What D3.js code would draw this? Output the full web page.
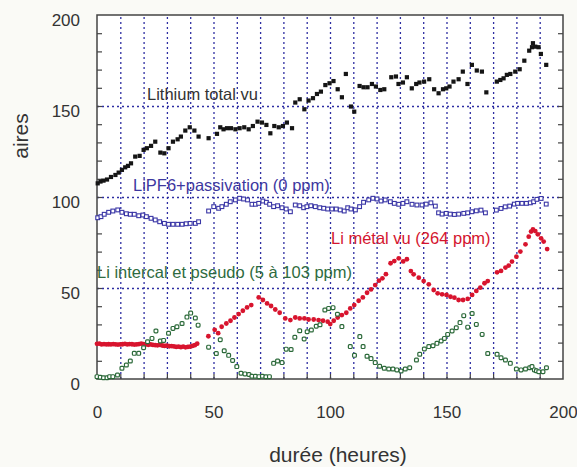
<!DOCTYPE html>
<head>
<meta charset="utf-8">
<title>aires vs durée</title>
<style>
html, body { margin: 0; padding: 0; background: #fafaf6; }
body { font-family: 'Liberation Sans', Arial, sans-serif; }
.grid line { stroke: #2e2ea2; stroke-width: 1.3; stroke-dasharray: 2,3; }
.grid path { display: none; }
.frame { fill: none; stroke: #444; stroke-width: 1.5; }
.ticks path { display: none; }
.ticks line { stroke: #444; stroke-width: 1.2; }
.labels path, .labels line { display: none; }
.labels text { font-size: 17px; fill: #333; font-family: 'Liberation Sans', Arial, sans-serif; }
</style>
</head>
<body>
<svg width="577" height="467"></svg>
<script src="https://d3js.org/d3.v7.min.js"></script>
<script>
// [durée (h), aire]
var lithiumTotal = [[0.3,107.5],[1.5,108.5],[2.8,109],[4.3,109.6],[6,111],[7.9,112.1],[9.3,113.4],[10.7,114.9],[12.1,116.3],[13.3,117.1],[14.6,118.5],[16.4,122.2],[18.3,122.6],[20,125.9],[21.4,126.8],[23.2,128.1],[25,130.4],[27.2,124.4],[28.9,124],[30.7,126.8],[32.6,130.4],[34.6,131.7],[36,133.2],[37.9,136.5],[39.8,138.3],[41.8,136.5],[43.6,133.2],[47.9,132.3],[51.5,134.7],[52.9,138.3],[54.3,137.2],[55.8,137.8],[57.5,137.8],[59.4,137.2],[61.2,137.8],[63.2,138.3],[65.1,137.2],[66.9,139],[68.9,141.4],[70.8,140.9],[72.7,139.6],[74.4,135],[76.1,139],[78,138.3],[79.8,139],[81.5,140.9],[83.7,137.8],[85.1,151.9],[87,153.7],[89,148.2],[90.8,153],[92.7,154.3],[94.4,156.6],[96.1,157.9],[98,161.5],[99.8,162.5],[101.5,163.7],[103.3,159.2],[105.1,154.8],[106.8,167.6],[109,149.7],[110.4,146.9],[112.7,161],[114.4,160.3],[116.1,160.3],[118,162.1],[119.7,160.7],[121.6,158.8],[123.3,159.2],[126.3,165.8],[128.3,166.2],[129.4,162.1],[131.3,162.9],[133,165.8],[135.1,159.7],[137,162.1],[138.4,162.9],[140.4,163.4],[142.6,164.7],[144.7,159.2],[146.6,157],[148.5,159.2],[149.9,159.7],[151.3,160.7],[153,163.4],[155.2,164.7],[157,168.9],[159,162.1],[160.9,172.6],[163,169.5],[165.2,168.9],[167.1,157.5],[171.6,163.4],[173.1,164.3],[174.5,165.2],[175.9,167.1],[177.4,167.6],[179.5,168.9],[181.4,170.2],[183.4,174.9],[185.5,180.4],[186.7,182.3],[187.1,184.5],[188.1,182.6],[189.5,182.3],[190.5,178.6],[192.8,172.6]];

var lipf6 = [[0.3,88.6],[1.7,89.2],[3.1,90.5],[5,91.6],[6.8,92.3],[8.9,92.9],[10.7,91.6],[12.6,90.8],[14.3,90.5],[16,90.5],[17.9,89.7],[19.7,90.1],[21.2,89.2],[23.2,88.3],[25,87.4],[26.9,86.4],[28.9,85.5],[30.7,85],[32.6,85],[34.6,85],[36.5,85],[38.3,85.3],[40,85.5],[42.2,85.5],[43.6,86.4],[47.9,92.3],[50.1,94.7],[52.2,93.8],[53.6,94.7],[55.5,96],[57.2,97.4],[59.4,98.4],[61.2,99.3],[62.9,98.9],[64.6,98.4],[66.5,96],[68,96],[69.4,96.5],[71.2,97.8],[72.7,97.1],[74.1,96],[75.8,94.7],[77.5,95.2],[79.4,94.1],[81.2,93.4],[83,91.9],[85.1,95.6],[87,95.2],[88.7,94.1],[90.1,94.7],[91.8,95.2],[93.7,94.7],[95.6,94.1],[97.3,93.8],[99,93.4],[100.8,93.4],[102.7,93.4],[104.4,92.9],[106.1,92.3],[107.6,94.1],[109,93.4],[110.9,92.9],[112.7,94.7],[114.4,97.1],[116.6,98.4],[118.4,99.3],[120.2,98.9],[121.9,97.8],[123.7,98.4],[125.9,97.4],[127.6,96.5],[129.5,96],[131.3,96.5],[133,97.4],[135.2,96],[137.3,95.6],[139.5,95.6],[141.3,96.1],[143.3,96.8],[145.2,95],[146.6,91.3],[148.1,90.6],[149.9,91],[151.6,90.6],[153.4,90.4],[155.2,90.6],[157.4,91],[159.1,91.3],[160.9,91.9],[162.8,92.4],[164.8,92.8],[166.7,91.3],[171.4,92.8],[173.4,93.7],[175.2,94.6],[177.1,95],[179.1,96.1],[180.5,96.5],[182.4,96.5],[184.3,96.5],[186,96.8],[187.4,97.4],[188.8,98.7],[190.6,99.2],[192.8,96.1]];

var liMetal = [[0,19.3],[1,19.4],[2,19],[3,19.2],[4,19],[5,19.1],[6,19],[7,19.2],[8,19],[9,18.9],[10,19],[11,19.1],[12,19.3],[13,19],[14,19.2],[15,19.1],[16,18.9],[17,19],[18,19.2],[19,19.4],[20,19.2],[21,19],[22,18.8],[23,19],[24,18.7],[25,18.6],[26,18.5],[27,18.7],[28,18.4],[29,18.2],[30,18.3],[31,18],[32,18.1],[33,17.9],[34,17.6],[35,17.8],[36,17.5],[37,17.8],[38,17.4],[39,17.6],[40,17.8],[41,18.2],[42,18.6],[43,19.4],[47.8,23.5],[50.5,27],[52,25.2],[53.5,28.7],[55.5,30.5],[57.3,32],[59,33.8],[60.8,35.7],[62.6,37.5],[64.4,39.3],[66.2,40.6],[69.4,44.8],[71.2,43.4],[73,41.5],[74.7,40.1],[76.5,38.2],[78.4,36.4],[80.8,33.3],[83,32.4],[85.1,33.8],[87,33.3],[89,33.3],[90.8,32.7],[93,32.7],[95.1,32.4],[97,32],[99,31.5],[100.1,30.2],[101.6,32],[103.3,33.8],[105.1,35.1],[107,36.4],[108.7,38.8],[110.4,40.6],[112.3,43],[114.1,44.8],[115.9,47.4],[117.6,49.2],[119.4,51.6],[121,54],[122.5,55.3],[124,57.6],[126,63.6],[127.6,64.8],[129.5,66.3],[131.4,64.6],[133,65.8],[134.7,59.3],[135.9,57.5],[138.1,55.7],[140.2,53.8],[142.4,52],[144.5,48.9],[146.2,47.1],[148.1,46.5],[150,46.2],[151.7,45.2],[153.4,44.7],[155.2,43.4],[157.1,43.4],[159.1,44],[161,46.2],[162.8,48.4],[164.5,50.2],[166.3,52.6],[167.7,53.8],[171.7,58.6],[173.4,59.4],[175.3,61.2],[176.7,62.3],[178.1,64.5],[180,67.2],[181.7,70],[183.9,74],[185.3,78.2],[186.3,81],[187.1,82.2],[188.1,81.3],[189.2,79.5],[190.6,77.3],[191.7,75.5],[193.2,71.4]];

var liIntercal = [[0,1.3],[1.4,1],[2.8,0.7],[4.3,0.7],[5.4,1.3],[6.8,1.3],[8.8,2.2],[10.7,5.9],[12.6,7.7],[14.3,9.9],[16,14.1],[17.9,14.1],[20,17.2],[21.7,20.5],[23.6,22.3],[25.3,26.4],[27.2,20.9],[28.6,21.2],[30.7,25.1],[32.6,27.8],[34.3,28.7],[36.5,30.5],[38.6,34],[40.2,36.2],[42.2,33.5],[43.4,29.6],[47.9,17.5],[51.2,14],[52.9,21.6],[54.6,15.5],[56.5,13],[58.2,10.2],[60,6.8],[61.8,3.2],[63.5,2.8],[65.2,2.5],[66.5,1.5],[68,1.5],[69.5,1.3],[71,1.5],[72.5,1.2],[74,1.3],[75.8,8.6],[77.5,9.9],[79.4,9],[81.2,16.4],[83.3,16.2],[84.9,22.9],[87,26.5],[88.9,22],[90.2,26],[92,26.9],[94.1,29],[95.7,29.8],[97.8,37.9],[99.4,38.8],[101.3,39.2],[103.2,35.6],[105.1,28.8],[108.7,17.8],[110.5,13],[112.8,23.3],[114.2,17.8],[115.9,12.5],[117.6,11.2],[119.4,9],[121.3,7],[123.3,5.9],[125.2,5.5],[127,5.5],[128.7,5],[130.5,4.4],[132.3,5.5],[134.2,6.2],[137.1,10.4],[138.5,13.6],[140.5,16.5],[142.4,17.8],[144.2,18.3],[145.9,19.6],[147.7,20.9],[149.1,22.3],[150.5,24.5],[152.4,26.4],[154.2,28.2],[155.8,31],[157.4,34.8],[159.1,28.5],[161,36],[162.8,30],[165.3,24.5],[167.7,14],[171.7,13.6],[173.4,11.7],[175.3,10.4],[177.4,8.6],[180,5.5],[182,5],[183.9,5.5],[185.7,6.2],[186.7,6.8],[187.7,5],[188.6,4.5],[189.6,4],[191.4,4],[192.9,6.2]];

var xLabels = [0, 50, 100, 150, 200];
var yLabels = [0, 50, 100, 150, 200];

var svg = d3.select("svg");
var pL = 97, pR = 563, pT = 15, pB = 379;

var x = d3.scaleLinear().domain([0, 200]).range([pL, pR]);
var y = d3.scaleLinear().domain([0, 200]).range([pB, pT]);

svg.append("rect")
    .attr("x", pL).attr("y", pT)
    .attr("width", pR - pL).attr("height", pB - pT)
    .style("fill", "#fff");

// dotted grid
svg.append("g").attr("class", "grid")
    .attr("transform", "translate(0," + pB + ")")
    .call(d3.axisBottom(x).tickValues(d3.range(10, 200, 10)).tickSize(-(pB - pT)).tickFormat(""));
svg.append("g").attr("class", "grid")
    .attr("transform", "translate(" + pL + ",0)")
    .call(d3.axisLeft(y).tickValues([50, 100, 150]).tickSize(-(pR - pL)).tickFormat(""));

// inward ticks
svg.append("g").attr("class", "ticks")
    .attr("transform", "translate(" + pL + ",0)")
    .call(d3.axisLeft(y).tickValues(d3.range(10, 200, 10)).tickSize(-5).tickFormat(""));
svg.append("g").attr("class", "ticks")
    .attr("transform", "translate(" + pR + ",0)")
    .call(d3.axisRight(y).tickValues(d3.range(10, 200, 10)).tickSize(-5).tickFormat(""));
svg.append("g").attr("class", "ticks")
    .attr("transform", "translate(0," + pB + ")")
    .call(d3.axisBottom(x).tickValues(d3.range(10, 200, 10)).tickSize(-5).tickFormat(""));

svg.append("rect").attr("class", "frame")
    .attr("x", pL).attr("y", pT)
    .attr("width", pR - pL).attr("height", pB - pT);

// tick labels
svg.append("g").attr("class", "labels")
    .attr("transform", "translate(" + pL + ",0)")
    .call(d3.axisLeft(y).tickValues(yLabels).tickSize(0).tickPadding(17))
    .selectAll("text").attr("dy", "0.6em");
svg.append("g").attr("class", "labels")
    .attr("transform", "translate(0," + pB + ")")
    .call(d3.axisBottom(x).tickValues(xLabels).tickSize(0).tickPadding(27));

svg.append("text")
    .attr("transform", "translate(28,136) rotate(-90)")
    .attr("text-anchor", "middle")
    .style("font-size", "21px").style("fill", "#333")
    .text("aires");
svg.append("text")
    .attr("x", 338).attr("y", 462)
    .attr("text-anchor", "middle")
    .style("font-size", "21px").style("fill", "#333")
    .text("durée (heures)");

// series
var s = 4.2;
svg.selectAll(".lt").data(lithiumTotal).enter().append("rect")
    .attr("x", function(d) { return x(d[0]) - s / 2; })
    .attr("y", function(d) { return y(d[1]) - s / 2; })
    .attr("width", s).attr("height", s)
    .style("fill", "#151515");

svg.selectAll(".lp").data(lipf6).enter().append("rect")
    .attr("x", function(d) { return x(d[0]) - 1.9; })
    .attr("y", function(d) { return y(d[1]) - 1.9; })
    .attr("width", 3.8).attr("height", 3.8)
    .style("fill", "#fff").style("stroke", "#3a36a6").style("stroke-width", 1.1);

svg.selectAll(".lm").data(liMetal).enter().append("circle")
    .attr("cx", function(d) { return x(d[0]); })
    .attr("cy", function(d) { return y(d[1]); })
    .attr("r", 2.4)
    .style("fill", "#d8142e");

svg.selectAll(".li").data(liIntercal).enter().append("rect")
    .attr("x", function(d) { return x(d[0]) - 1.9; })
    .attr("y", function(d) { return y(d[1]) - 1.9; })
    .attr("width", 3.8).attr("height", 3.8).attr("rx", 1)
    .style("fill", "#fff").style("stroke", "#2c6a3a").style("stroke-width", 1.2);

// series names
var names = [
  {t: "Lithium total vu", x: 147, y: 100, c: "#333"},
  {t: "LiPF6+passivation (0 ppm)", x: 133, y: 191, c: "#3d37a0"},
  {t: "Li métal vu (264 ppm)", x: 331, y: 244, c: "#d4142e"},
  {t: "Li intercal et pseudo (5 à 103 ppm)", x: 97, y: 278, c: "#2f6b40"}
];
svg.selectAll(".nm").data(names).enter().append("text")
    .attr("x", function(d) { return d.x; })
    .attr("y", function(d) { return d.y; })
    .style("font-size", "16.5px")
    .style("fill", function(d) { return d.c; })
    .text(function(d) { return d.t; });
</script>
</body>
